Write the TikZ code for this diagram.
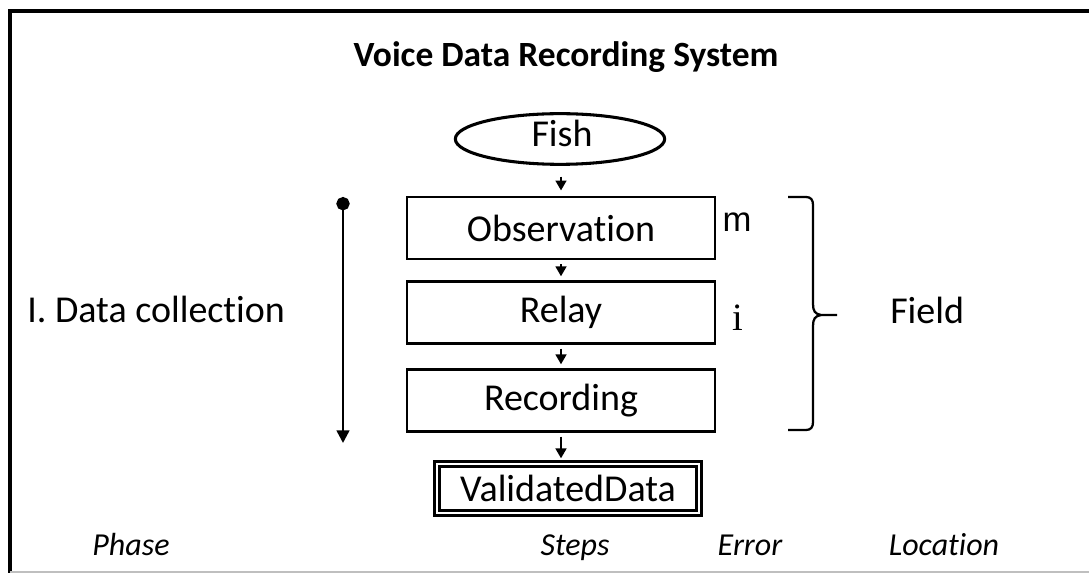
\documentclass[tikz,border=0pt]{standalone}
\usepackage{fontspec}
\setmainfont{Carlito}[Ligatures=NoCommon]
\newfontfamily\serifi{Liberation Serif}
\newfontfamily\sansm{Liberation Sans}
\usetikzlibrary{shapes.geometric,arrows.meta}
\begin{document}
\begin{tikzpicture}[x=0.75pt,y=-0.75pt,
  stepbox/.style={draw,line width=1.7pt,minimum width=231pt,minimum height=46.5pt,inner sep=0pt},
  txt/.style={font=\fontsize{28.5}{34}\selectfont,inner sep=0pt},
  foot/.style={font=\fontsize{24}{29}\selectfont\itshape,inner sep=0pt,anchor=base},
  flow/.style={-{Triangle[length=7.5pt,width=8pt]},line width=1.9pt}
]
\useasboundingbox (0,0) rectangle (1089,573);
\begin{scope}
\clip (0,0) rectangle (1089,573);
% outer frame
\draw[line width=2.4pt] (10,590) -- (10,11) -- (1100,11);
\draw[gray!50,line width=0.8pt] (10,572) -- (1100,572);
\end{scope}

% title
\node[font=\fontsize{26.6}{32}\selectfont\bfseries,inner sep=0pt] (title) at (566,57) {Voice Data Recording System};

% flow chart
\node[draw,ellipse,line width=2.3pt,minimum width=157pt,minimum height=38pt,inner sep=0pt] (fish) at (560,139) {};
\node[txt] (fishtext) at (562,133) {Fish};
\node[stepbox,txt] (obs) at (561,228) {Observation};
\node[stepbox,txt] (relay) at (561,312.5) {Relay};
\node[stepbox,txt] (rec) at (561,400.5) {Recording};
\node[draw,line width=2.4pt,double,double distance=1.8pt,minimum width=196.5pt,minimum height=36.75pt,inner sep=0pt,txt] (valid) at (568,488.5) {ValidatedData};

\draw[flow,shorten <=8pt,shorten >=4pt] (fish.south -| obs.north) -- (obs.north);
\draw[flow,shorten <=3pt,shorten >=3pt] (obs.south) -- (relay.north);
\draw[flow,shorten <=3pt,shorten >=3pt] (relay.south) -- (rec.north);
\draw[flow,shorten <=3pt,shorten >=3pt] (rec.south) -- (rec.south |- valid.north);

% phase arrow
\coordinate (ptop) at (343,197);
\coordinate (pbot) at (343,443);
\draw[{Circle[length=10pt]}-{Triangle[length=9.5pt,width=9.5pt]},line width=1.9pt] (ptop) -- (pbot);
\node[txt,anchor=west] (phase) at (27,309) {I. Data collection};

% error codes
\node[inner sep=0pt,font=\sansm\fontsize{26}{31}\selectfont] (errm) at (737,222) {m};
\node[inner sep=0pt,font=\serifi\fontsize{29}{34}\selectfont] (erri) at (738,318) {i};

% location brace
\coordinate (btop) at (788,197);
\coordinate (bbot) at (788,430);
\coordinate (btip) at (837,315);
\draw[line width=1.7pt]
  (btop) -- (806,197) .. controls (811,197) and (813,200) .. (813,205)
  -- (813,304) .. controls (813,311) and (815,314) .. (821,315) -- (btip);
\draw[line width=1.7pt]
  (bbot) -- (806,430) .. controls (811,430) and (813,427) .. (813,422)
  -- (813,326) .. controls (813,319) and (815,316) .. (821,315);
\node[txt,anchor=west] (field) at (890,310) {Field};

% column captions
\node[foot] (cphase) at (131,555) {Phase};
\node[foot] (csteps) at (575,555) {Steps};
\node[foot] (cerror) at (750,555) {Error};
\node[foot] (cloc) at (944,555) {Location};
\end{tikzpicture}
\end{document}
